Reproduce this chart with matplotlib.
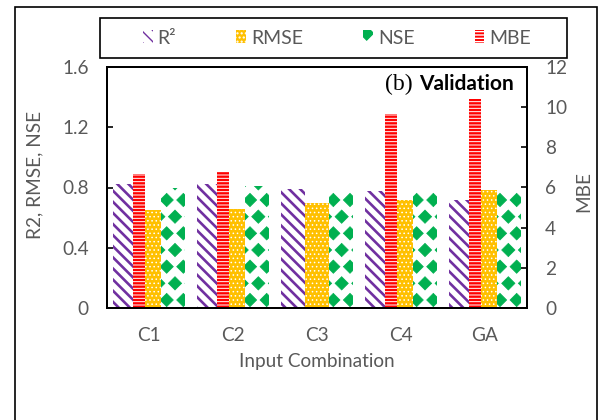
import matplotlib.pyplot as plt
import matplotlib.patches as mpatches
import matplotlib.hatch as mhatch
from matplotlib.path import Path
import numpy as np

plt.rcParams['font.family'] = ['Lato', 'DejaVu Sans']


# filled diamonds instead of stars for the '*' hatch (NSE fill in the original)
class Diamonds(mhatch.Shapes):
    size = 0.4
    filled = True

    def __init__(self, hatch, density):
        self.num_rows = hatch.count('*') * density
        path = Path.unit_regular_polygon(4)
        self.shape_vertices = path.vertices
        self.shape_codes = path.codes
        super().__init__(hatch, density)


mhatch._hatch_types[mhatch._hatch_types.index(mhatch.Stars)] = Diamonds

# values
categories = ['C1', 'C2', 'C3', 'C4', 'GA']
r2 = [0.82, 0.82, 0.79, 0.78, 0.72]
rmse = [0.653, 0.66, 0.70, 0.72, 0.785]
nse = [0.80, 0.81, 0.775, 0.78, 0.78]
mbe = [6.65, 6.75, 0.0, 9.65, 10.43]

W, H = 599, 420
grey = '#595959'
purple = '#7030A0'
gold = '#FFC000'
green = '#00B050'
red = '#FF0000'

fig = plt.figure(figsize=(W / 100, H / 100), dpi=100)
ax = fig.add_axes([107 / W, 1 - 308 / H, 420 / W, 241 / H])
ax2 = ax.twinx()

x = np.arange(len(categories))
bw = 0.285

styles = {
    'r2': dict(facecolor='white', edgecolor=purple, hatch='\\\\\\', hlw=1.9),
    'rmse': dict(facecolor=gold, edgecolor='white', hatch='....', hlw=0.6),
    'nse': dict(facecolor='white', edgecolor=green, hatch='*', hlw=0.5),
    'mbe': dict(facecolor=red, edgecolor='white', hatch='-----', hlw=0.7),
}


def hatched_bar(axis, pos, vals, w, st):
    with plt.rc_context({'hatch.linewidth': st['hlw']}):
        bars = axis.bar(pos, vals, w, facecolor=st['facecolor'], edgecolor=st['edgecolor'],
                        hatch=st['hatch'], linewidth=0)
        for b in bars:
            if hasattr(b, 'set_hatch_linewidth'):
                b.set_hatch_linewidth(st['hlw'])
    return bars


hatched_bar(ax, x - bw, r2, bw, styles['r2'])
hatched_bar(ax, x, rmse, bw, styles['rmse'])
hatched_bar(ax, x + bw, nse, bw, styles['nse'])
hatched_bar(ax2, x - 0.121, mbe, 0.137, styles['mbe'])

ax.set_xlim(-0.5, 4.5)
ax.set_ylim(0, 1.6)
ax.set_yticks([0, 0.4, 0.8, 1.2, 1.6], ['0', '0.4', '0.8', '1.2', '1.6'])
ax2.set_ylim(0, 12)
ax2.set_yticks([0, 2, 4, 6, 8, 10, 12])
ax.set_xticks(x, categories)

fs = 13.7
ax.tick_params(axis='x', length=0, pad=14, labelsize=fs, labelcolor=grey)
ax.tick_params(axis='y', direction='in', length=4, width=1.2, pad=13, labelsize=fs, labelcolor=grey)
ax2.tick_params(axis='y', direction='in', length=4, width=1.2, pad=13, labelsize=fs, labelcolor=grey)
for a in (ax, ax2):
    for s in a.spines.values():
        s.set_linewidth(1.4)
        s.set_color('black')

# text
fig.text(413 / W, 1 - 84 / H, '(b)', family='Liberation Serif', fontsize=17, ha='right', va='center')
fig.text(419 / W, 1 - 84 / H, 'Validation', weight='bold', fontsize=15, ha='left', va='center')
fig.text(35 / W, 1 - 175 / H, 'R2, RMSE, NSE', rotation=90, ha='center', va='center', color=grey, fontsize=fs)
fig.text(584 / W, 1 - 192 / H, 'MBE', rotation=90, ha='center', va='center', color=grey, fontsize=fs)
fig.text(317 / W, 1 - 361 / H, 'Input Combination', ha='center', va='center', color=grey, fontsize=fs)

# legend
handles = []
labels = ['R²', 'RMSE', 'NSE', 'MBE']
for key in ['r2', 'rmse', 'nse', 'mbe']:
    st = styles[key]
    with plt.rc_context({'hatch.linewidth': st['hlw']}):
        p = mpatches.Patch(facecolor=st['facecolor'], edgecolor=st['edgecolor'], hatch=st['hatch'], linewidth=0)
    handles.append(p)
fig.legend(handles, labels, loc='center', bbox_to_anchor=(337 / W, 1 - 38 / H), ncol=4, frameon=False,
           fontsize=14, handlelength=0.5, handleheight=0.6, handletextpad=0.25, columnspacing=3.1,
           labelcolor=grey)

# boxes
fig.add_artist(mpatches.Rectangle((100 / W, 1 - 58 / H), 467 / W, 40 / H, transform=fig.transFigure,
                                  fill=False, lw=1.2, ec='black'))
fig.add_artist(mpatches.Rectangle((15 / W, -0.1), 582 / W, (420 - 7) / H + 0.1, transform=fig.transFigure,
                                  fill=False, lw=1.2, ec='black'))

fig.savefig('out.png', dpi=100)
